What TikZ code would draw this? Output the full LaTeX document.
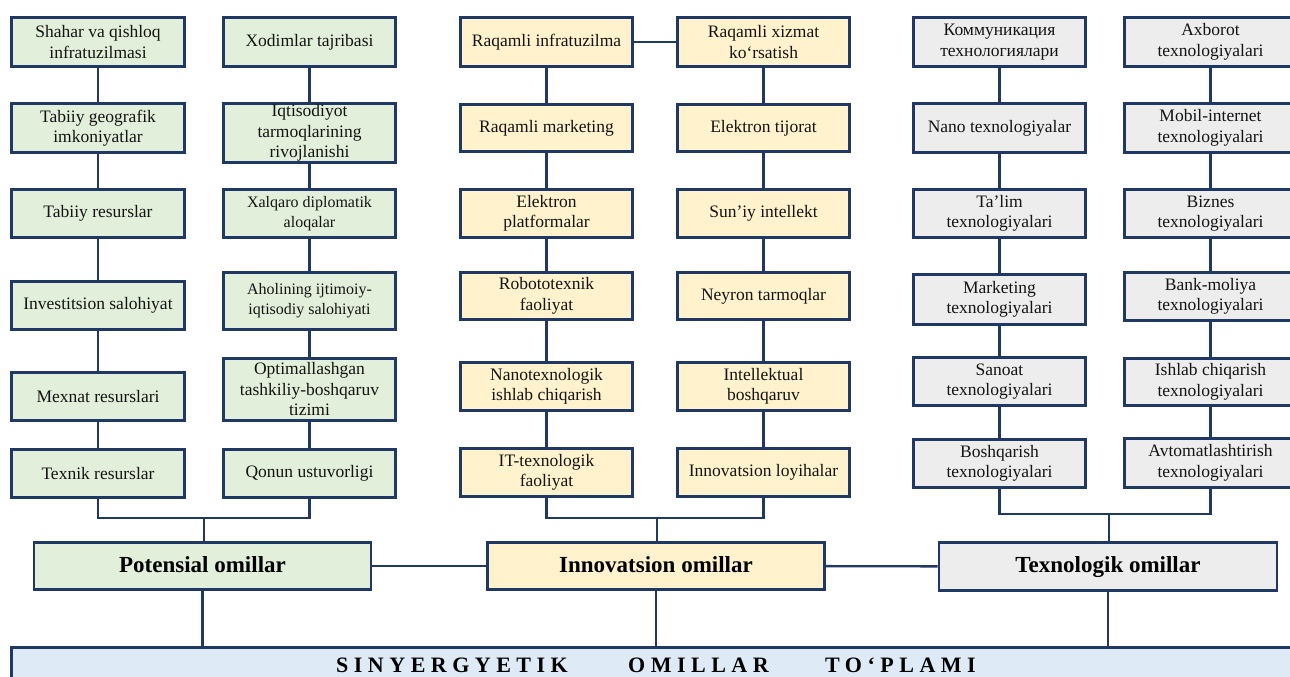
\documentclass[tikz,border=0pt]{standalone}
\usepackage{fontspec}
\setmainfont{Liberation Serif}
\definecolor{navy}{HTML}{1F3864}
\definecolor{gfill}{HTML}{E2EFDA}
\definecolor{yfill}{HTML}{FFF2CC}
\definecolor{sfill}{HTML}{EDEDED}
\definecolor{bfill}{HTML}{DEEBF7}
\definecolor{txt}{HTML}{141414}
\tikzset{
  box/.style={draw=navy, line width=2.6pt, align=center, inner sep=1pt,
    text=txt, font=\fontsize{17.5}{20.5}\selectfont, minimum width=172.5pt},
  gbox/.style={box, fill=gfill},
  ybox/.style={box, fill=yfill},
  sbox/.style={box, fill=sfill},
  mainbox/.style={draw=navy, line width=2.6pt, inner sep=1pt, text=black,
    font=\fontsize{23}{26}\bfseries\selectfont, minimum height=47.5pt, minimum width=337pt,
    text height=16pt, text depth=4pt},
  conn/.style={draw=navy, line width=2.4pt},
  small/.style={font=\fontsize{16}{20}\selectfont},
  ltr/.style={font=\fontsize{22}{24}\bfseries\addfontfeature{LetterSpace=25}\selectfont, text=black, anchor=base west, inner sep=0pt}
}
\begin{document}
\begin{tikzpicture}[x=1pt,y=-1pt]
\useasboundingbox (0,0) rectangle (1290,677);
% bottom bar
\node[draw=navy, line width=2.6pt, fill=bfill, minimum width=1300pt, minimum height=60pt, anchor=north west, inner sep=0pt] (bar) at (10,646) {};
\node[ltr] (w1) at (336,672) {SINYERGYETIK};
\node[ltr] (w2) at (628,672) {OMILLAR};
\node[ltr] (w3) at (825,672) {TO‘PLAMI};

% column A
\node[gbox, minimum height=49.5pt] (a1) at (98,42) {Shahar va qishloq\\infratuzilmasi};
\node[gbox, minimum height=49.5pt] (a2) at (98,128) {Tabiiy geografik\\imkoniyatlar};
\node[gbox, minimum height=48.5pt] (a3) at (98,213.5) {Tabiiy resurslar};
\node[gbox, minimum height=48.5pt] (a4) at (98,305.5) {Investitsion salohiyat};
\node[gbox, minimum height=48.5pt] (a5) at (98,396.5) {Mexnat resurslari};
\node[gbox, minimum height=48.5pt] (a6) at (98,473.5) {Texnik resurslar};
% column B
\node[gbox, minimum height=49.5pt] (b1) at (309.5,42) {Xodimlar tajribasi};
\node[gbox, minimum height=59.5pt] (b2) at (309.5,133) {Iqtisodiyot\\tarmoqlarining\\rivojlanishi};
\node[gbox, small, minimum height=48.5pt] (b3) at (309.5,213.5) {Xalqaro diplomatik\\aloqalar};
\node[gbox, small, minimum height=57.5pt] (b4) at (309.5,301) {Aholining ijtimoiy-\\iqtisodiy salohiyati};
\node[gbox, minimum height=62.5pt] (b5) at (309.5,389.5) {Optimallashgan\\tashkiliy-boshqaruv\\tizimi};
\node[gbox, minimum height=48.5pt] (b6) at (309.5,473.5) {Qonun ustuvorligi};
% column C
\node[ybox, minimum height=49.5pt] (c1) at (546.5,42) {Raqamli infratuzilma};
\node[ybox, minimum height=47.5pt] (c2) at (546.5,128) {Raqamli marketing};
\node[ybox, minimum height=48.5pt] (c3) at (546.5,213.5) {Elektron\\platformalar};
\node[ybox, minimum height=47.5pt] (c4) at (546.5,296) {Robototexnik\\faoliyat};
\node[ybox, minimum height=48.5pt] (c5) at (546.5,386.5) {Nanotexnologik\\ishlab chiqarish};
\node[ybox, minimum height=48.5pt] (c6) at (546.5,472.5) {IT-texnologik\\faoliyat};
% column D
\node[ybox, minimum height=49.5pt] (d1) at (763.5,42) {Raqamli xizmat\\ko‘rsatish};
\node[ybox, minimum height=47.5pt] (d2) at (763.5,128) {Elektron tijorat};
\node[ybox, minimum height=48.5pt] (d3) at (763.5,213.5) {Sun’iy intellekt};
\node[ybox, minimum height=47.5pt] (d4) at (763.5,296) {Neyron tarmoqlar};
\node[ybox, minimum height=48.5pt] (d5) at (763.5,386.5) {Intellektual\\boshqaruv};
\node[ybox, minimum height=48.5pt] (d6) at (763.5,472.5) {Innovatsion loyihalar};
% column E
\node[sbox, minimum height=49.5pt] (e1) at (999.5,42) {Коммуникация\\технологиялари};
\node[sbox, minimum height=49.5pt] (e2) at (999.5,128) {Nano texnologiyalar};
\node[sbox, minimum height=48.5pt] (e3) at (999.5,213.5) {Ta’lim\\texnologiyalari};
\node[sbox, minimum height=50.5pt] (e4) at (999.5,299.5) {Marketing\\texnologiyalari};
\node[sbox, minimum height=48.5pt] (e5) at (999.5,381.5) {Sanoat\\texnologiyalari};
\node[sbox, minimum height=48.5pt] (e6) at (999.5,463.5) {Boshqarish\\texnologiyalari};
% column F
\node[sbox, minimum height=49.5pt] (f1) at (1210.5,42) {Axborot\\texnologiyalari};
\node[sbox, minimum height=49.5pt] (f2) at (1210.5,128) {Mobil-internet\\texnologiyalari};
\node[sbox, minimum height=48.5pt] (f3) at (1210.5,213.5) {Biznes\\texnologiyalari};
\node[sbox, minimum height=48.5pt] (f4) at (1210.5,296.5) {Bank-moliya\\texnologiyalari};
\node[sbox, minimum height=47.5pt] (f5) at (1210.5,382) {Ishlab chiqarish\\texnologiyalari};
\node[sbox, minimum height=49.5pt] (f6) at (1210.5,463) {Avtomatlashtirish\\texnologiyalari};

% main boxes
\node[mainbox, fill=gfill] (pot) at (202.5,566) {Potensial omillar};
\node[mainbox, fill=yfill] (inn) at (656,566) {Innovatsion omillar};
\node[mainbox, fill=sfill, minimum width=338pt] (tex) at (1108,566.5) {Texnologik omillar};

% junctions
\coordinate (jab) at (204,518);
\coordinate (jcd) at (657,518);
\coordinate (jef) at (1109,514);

\foreach \c in {a,b,c,d,e,f}{
  \draw[conn] (\c1) -- (\c2);
  \draw[conn] (\c2) -- (\c3);
  \draw[conn] (\c3) -- (\c4);
  \draw[conn] (\c4) -- (\c5);
  \draw[conn] (\c5) -- (\c6);
}
\draw[conn] (c1) -- (d1);
\draw[conn] (a6.south) |- (jab) -| (b6.south);
\draw[conn] (jab) -- (jab |- pot.north);
\draw[conn] (c6.south) |- (jcd) -| (d6.south);
\draw[conn] (jcd) -- (jcd |- inn.north);
\draw[conn] (e6.south) |- (jef) -| (f6.south);
\draw[conn] (jef) -- (jef |- tex.north);
\draw[conn] (pot) -- (inn);
\draw[conn] (inn) -- (tex);
\draw[conn] (pot.south) -- (pot.south |- bar.north);
\draw[conn] (inn.south) -- (inn.south |- bar.north);
\draw[conn] (tex.south) -- (tex.south |- bar.north);
\end{tikzpicture}
\end{document}
